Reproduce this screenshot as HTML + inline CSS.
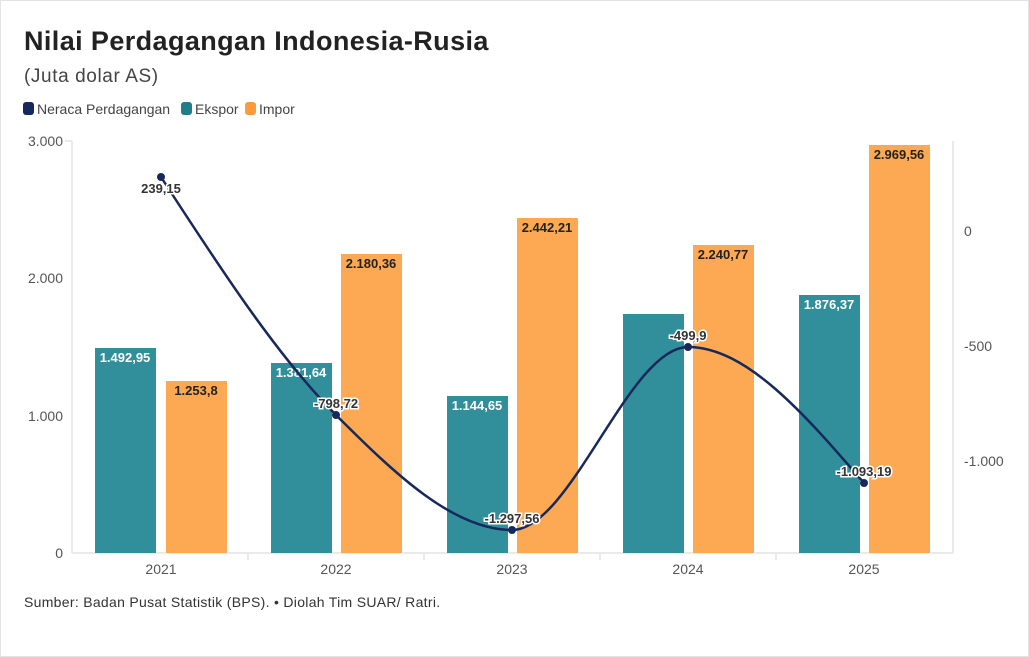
<!DOCTYPE html>
<html><head><meta charset="utf-8"><style>
body{margin:0;background:#fff;}
svg{display:block;font-family:"Liberation Sans",sans-serif;}
</style></head><body>
<svg width="1029" height="657" viewBox="0 0 1029 657">
<rect x="0.5" y="0.5" width="1028" height="656" fill="#fff" stroke="#e3e3e3"/>
<text x="24" y="50" font-size="27" font-weight="bold" fill="#222" letter-spacing="0.4">Nilai Perdagangan Indonesia-Rusia</text>
<text x="24" y="82" font-size="19" fill="#444" letter-spacing="0.6">(Juta dolar AS)</text>
<rect x="23" y="102" width="11" height="13" rx="3" fill="#16295a"/>
<text x="37" y="114" font-size="14" fill="#444">Neraca Perdagangan</text>
<rect x="181" y="102" width="11" height="13" rx="3" fill="#1f7f89"/>
<text x="195" y="114" font-size="14" fill="#444">Ekspor</text>
<rect x="245" y="102" width="11" height="13" rx="3" fill="#fd9a3a"/>
<text x="259" y="114" font-size="14" fill="#444">Impor</text>
<g stroke="#e3e3e3" stroke-width="1.5">
<line x1="72" y1="141" x2="72" y2="553"/><line x1="65" y1="141" x2="72" y2="141"/>
<line x1="953" y1="141" x2="953" y2="553"/>
<line x1="72" y1="553" x2="953" y2="553"/>
<line x1="248" y1="553" x2="248" y2="560"/><line x1="424" y1="553" x2="424" y2="560"/>
<line x1="600" y1="553" x2="600" y2="560"/><line x1="776" y1="553" x2="776" y2="560"/>
</g>
<g font-size="14" fill="#555" text-anchor="end">
<text x="63" y="146">3.000</text><text x="63" y="283">2.000</text><text x="63" y="421">1.000</text><text x="63" y="558">0</text>
</g>
<g font-size="14" fill="#555">
<text x="964" y="236">0</text><text x="964" y="351">-500</text><text x="964" y="466">-1.000</text>
</g>
<g font-size="14" fill="#555" text-anchor="middle">
<text x="161" y="574">2021</text><text x="336" y="574">2022</text><text x="512" y="574">2023</text><text x="688" y="574">2024</text><text x="864" y="574">2025</text>
</g>
<g fill="#318f9b">
<rect x="95" y="348" width="61" height="205"/><rect x="271" y="363" width="61" height="190"/>
<rect x="447" y="396" width="61" height="157"/><rect x="623" y="314" width="61" height="239"/>
<rect x="799" y="295" width="61" height="258"/>
</g>
<g fill="#fda853">
<rect x="166" y="381" width="61" height="172"/><rect x="341" y="254" width="61" height="299"/>
<rect x="517" y="218" width="61" height="335"/><rect x="693" y="245" width="61" height="308"/>
<rect x="869" y="145" width="61" height="408"/>
</g>
<g font-size="13" font-weight="bold" fill="#fff" text-anchor="middle">
<text x="125" y="362">1.492,95</text><text x="301" y="377">1.381,64</text><text x="477" y="410">1.144,65</text><text x="829" y="309">1.876,37</text>
</g>
<g font-size="13" font-weight="bold" fill="#222" text-anchor="middle">
<text x="196" y="395">1.253,8</text><text x="371" y="268">2.180,36</text><text x="547" y="232">2.442,21</text><text x="723" y="259">2.240,77</text><text x="899" y="159">2.969,56</text>
</g>
<path d="M161,177 C219.3,267 277.7,356.7 336,415 C394.3,473.3 453.3,530 512,530 C570.7,530 629.3,347 688,347 C746.7,347 805.3,415 864,483" fill="none" stroke="#16295a" stroke-width="2.5"/>
<g fill="#16295a"><circle cx="161" cy="177" r="4"/><circle cx="336" cy="415" r="4"/><circle cx="512" cy="530" r="4"/><circle cx="688" cy="347" r="4"/><circle cx="864" cy="483" r="4"/></g>
<g font-size="13" font-weight="bold" fill="#333" text-anchor="middle" stroke="#fff" stroke-width="3" paint-order="stroke">
<text x="161" y="193">239,15</text><text x="336" y="408">-798,72</text><text x="512" y="523">-1.297,56</text><text x="688" y="340">-499,9</text><text x="864" y="476">-1.093,19</text>
</g>
<text x="24" y="607" font-size="14" fill="#333" letter-spacing="0.3">Sumber: Badan Pusat Statistik (BPS). • Diolah Tim SUAR/ Ratri.</text>
</svg>
</body></html>
